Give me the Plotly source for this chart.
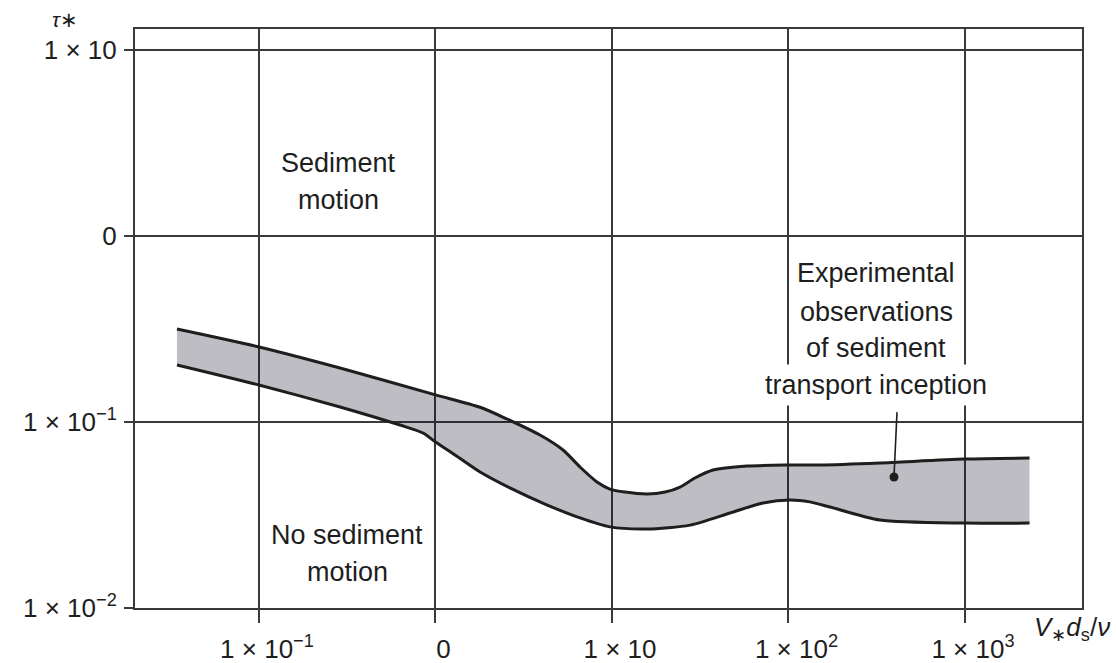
import plotly.graph_objects as go

# ---------------- data ----------------
x_ticks = [0.1, 1, 10, 100, 1000]
x_tick_labels = ["1 × 10<sup>−1</sup>", "0", "1 × 10", "1 × 10<sup>2</sup>", "1 × 10<sup>3</sup>"]
y_ticks = [0.01, 0.1, 1, 10]
y_tick_labels = ["1 × 10<sup>−2</sup>", "1 × 10<sup>−1</sup>", "0", "1 × 10"]

upper_x = [0.0343, 0.1, 0.288, 1.0, 1.79, 2.54, 3.91, 5.28, 6.59, 8.22, 9.74, 11.85,
           15.8, 20.0, 24.3, 29.5, 37.4, 58.2, 99.4, 151, 330, 994, 2320]
upper_y = [0.316, 0.253, 0.195, 0.140, 0.120, 0.1038, 0.0851, 0.0707, 0.0573, 0.0476, 0.0436, 0.0420,
           0.0410, 0.0420, 0.0447, 0.0500, 0.0552, 0.0580, 0.0587, 0.0587, 0.0602, 0.0632, 0.0640]

lower_x = [0.0343, 0.1, 0.288, 0.629, 0.85, 1.0, 1.29, 1.79, 2.64, 4.17, 6.59, 9.74,
           15.8, 27.7, 46.6, 71.7, 102, 132, 172, 330, 994, 2320]
lower_y = [0.2025, 0.158, 0.1204, 0.0963, 0.0873, 0.0781, 0.0665, 0.0538, 0.0442, 0.0362, 0.0305, 0.0273,
           0.0266, 0.0279, 0.0324, 0.0367, 0.0381, 0.0372, 0.0349, 0.0297, 0.0286, 0.0286]

leader_x = [412, 396]
leader_y = [0.113, 0.0506]

region_labels = ["Sediment", "motion", "No sediment", "motion"]
band_label_lines = ["Experimental", "observations", "of sediment", "transport inception"]

# ---------------- styling ----------------
FONT = "Liberation Sans, Arial, Helvetica, sans-serif"
INK = "#1e1e1e"
GRID = "#3a3a3a"
W, H = 1116, 663
L, R, T, B = 135, 34, 29, 55
PW, PH = W - L - R, H - T - B


def px(xp):
    return (xp - L) / PW


def py(yp):
    return (H - B - yp) / PH


fig = go.Figure()

fig.add_trace(go.Scatter(x=upper_x, y=upper_y, mode="lines",
                         line=dict(color=INK, width=3, shape="spline", smoothing=0.7),
                         hoverinfo="skip", showlegend=False))
fig.add_trace(go.Scatter(x=lower_x, y=lower_y, mode="lines", fill="tonexty",
                         fillcolor="rgba(16,12,34,0.27)",
                         line=dict(color=INK, width=3, shape="spline", smoothing=0.7),
                         hoverinfo="skip", showlegend=False))
fig.add_trace(go.Scatter(x=leader_x, y=leader_y, mode="lines",
                         line=dict(color=INK, width=1.6),
                         hoverinfo="skip", showlegend=False))
fig.add_trace(go.Scatter(x=leader_x[-1:], y=leader_y[-1:], mode="markers",
                         marker=dict(color=INK, size=9),
                         hoverinfo="skip", showlegend=False))

axis_common = dict(
    type="log", automargin=False,
    showgrid=True, gridcolor=GRID, gridwidth=2,
    showline=True, linecolor=GRID, linewidth=2, mirror=True,
    ticks="outside", tickcolor=GRID, tickwidth=2,
    tickfont=dict(family=FONT, size=26, color=INK),
    zeroline=False,
)

fig.update_xaxes(**axis_common, range=[-1.7025, 3.663], tickmode="array",
                 tickvals=x_ticks, ticktext=x_tick_labels, ticklen=13,
                 ticklabelstandoff=4, ticklabelshift=8)
fig.update_yaxes(**axis_common, range=[-2, 1.113], tickmode="array",
                 tickvals=y_ticks, ticktext=y_tick_labels, ticklen=9,
                 ticklabelstandoff=2)

annotations = []
# region labels
region_pos = [(338, 163), (338, 200), (347, 535), (347, 572)]
for txt, (xp, yp) in zip(region_labels, region_pos):
    annotations.append(dict(x=px(xp), y=py(yp), xref="paper", yref="paper", text=txt,
                            showarrow=False, xanchor="center", yanchor="middle",
                            font=dict(family=FONT, size=27, color=INK)))
# band label
band_pos = [273, 312, 348, 385]
for i, (txt, yp) in enumerate(zip(band_label_lines, band_pos)):
    a = dict(x=px(876), y=py(yp), xref="paper", yref="paper", text=txt,
             showarrow=False, xanchor="center", yanchor="middle",
             font=dict(family=FONT, size=27, color=INK))
    if i == len(band_label_lines) - 1:
        a.update(bgcolor="white", borderpad=5)
    annotations.append(a)
# axis titles
annotations.append(dict(x=px(1112), y=py(628), xref="paper", yref="paper",
                        text="<i>V</i><sub>∗</sub><i>d</i><sub>s</sub>/<i>ν</i>",
                        showarrow=False, xanchor="right", yanchor="middle",
                        font=dict(family=FONT, size=26, color=INK)))
annotations.append(dict(x=px(65), y=py(20), xref="paper", yref="paper",
                        text="<i>τ</i>∗",
                        showarrow=False, xanchor="center", yanchor="middle",
                        font=dict(family=FONT, size=21, color=INK)))

fig.update_layout(
    width=W, height=H, autosize=False,
    margin=dict(l=L, r=R, t=T, b=B, pad=0),
    paper_bgcolor="white", plot_bgcolor="white",
    showlegend=False,
    annotations=annotations,
)

fig.write_html("out.html")
